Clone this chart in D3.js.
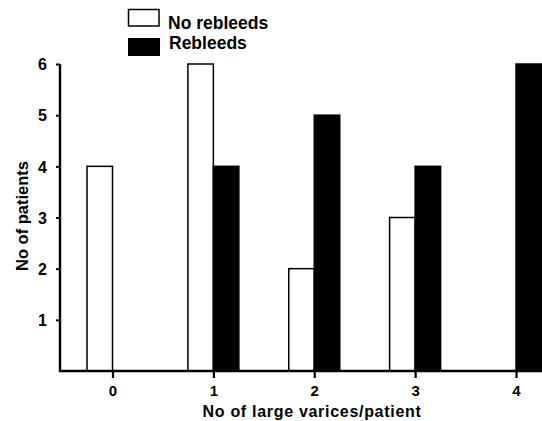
<!DOCTYPE html>
<html>
<head>
<meta charset="utf-8">
<script src="https://cdn.jsdelivr.net/npm/d3@7"></script>
<style>
html,body{margin:0;padding:0;background:#fff;}
text{font-family:"Liberation Sans",Arial,sans-serif;font-weight:bold;fill:#000;}
</style>
</head>
<body>
<svg id="chart" width="542" height="421"></svg>
<script>
const categories = [0, 1, 2, 3, 4];
const noRebleeds = [4, 6, 2, 3, 0];
const rebleeds = [0, 4, 5, 4, 6];
const yTicks = [1, 2, 3, 4, 5, 6];
const seriesNames = ["No rebleeds", "Rebleeds"];
const xTitle = "No of large varices/patient";
const yTitle = "No of patients";

const svg = d3.select("#chart");
const x = d3.scaleLinear().domain([0, 4]).range([112.5, 516]);
const y = d3.scaleLinear().domain([0, 6]).range([371, 64]);
const barW = 25.5;

// bars
const g = svg.append("g");
g.selectAll("rect.nr").data(categories.filter((c,i)=>noRebleeds[i]>0)).enter().append("rect")
  .attr("x", c => x(c) - barW).attr("width", barW)
  .attr("y", c => y(noRebleeds[c])).attr("height", c => y(0) - y(noRebleeds[c]))
  .attr("fill", "#fff").attr("stroke", "#000").attr("stroke-width", 1.5);
g.selectAll("rect.r").data(categories.filter((c,i)=>rebleeds[i]>0)).enter().append("rect")
  .attr("x", c => x(c)).attr("width", barW)
  .attr("y", c => y(rebleeds[c])).attr("height", c => y(0) - y(rebleeds[c]))
  .attr("fill", "#000").attr("stroke", "#000").attr("stroke-width", 1.5);

// y axis
const yAxis = d3.axisLeft(y).tickValues(yTicks).tickSize(4).tickPadding(9).tickFormat(d3.format("d"));
const ya = svg.append("g").attr("transform", "translate(60,0)").call(yAxis);
ya.select(".domain").remove();
ya.append("line").attr("x1",0).attr("x2",0).attr("y1",y(0)+1).attr("y2",y(6)).attr("stroke","#000").attr("stroke-width",2.4);
ya.selectAll(".tick line").attr("stroke-width",2);
ya.selectAll(".tick text").style("font-size","16px").style("font-family","Liberation Sans").style("font-weight","bold").attr("dy","0.36em");

// x axis
const xAxis = d3.axisBottom(x).tickValues(categories).tickSize(7).tickPadding(7).tickFormat(d3.format("d"));
const xa = svg.append("g").attr("transform", `translate(0,${y(0)})`).call(xAxis);
xa.select(".domain").remove();
xa.append("line").attr("x1",59).attr("x2",542).attr("y1",0).attr("y2",0).attr("stroke","#000").attr("stroke-width",2.4);
xa.selectAll(".tick line").attr("stroke-width",2.2);
xa.selectAll(".tick text").style("font-size","15px").style("font-family","Liberation Sans").style("font-weight","bold");

// titles
svg.append("text").attr("x", 312).attr("y", 417).attr("text-anchor","middle").style("font-size","16px").style("letter-spacing","0.7px").text(xTitle);
svg.append("text").attr("transform","translate(27.5,216) rotate(-90)").attr("text-anchor","middle").style("font-size","16.5px").text(yTitle);

// legend
svg.append("rect").attr("x",128.5).attr("y",9.5).attr("width",30.5).attr("height",16.5).attr("fill","#fff").attr("stroke","#000").attr("stroke-width",1.5);
svg.append("rect").attr("x",128).attr("y",38).attr("width",32).attr("height",18).attr("fill","#000");
svg.append("text").attr("x",168).attr("y",28.5).style("font-size","17.5px").text(seriesNames[0]);
svg.append("text").attr("x",169).attr("y",49).style("font-size","17.5px").text(seriesNames[1]);
</script>
</body>
</html>
